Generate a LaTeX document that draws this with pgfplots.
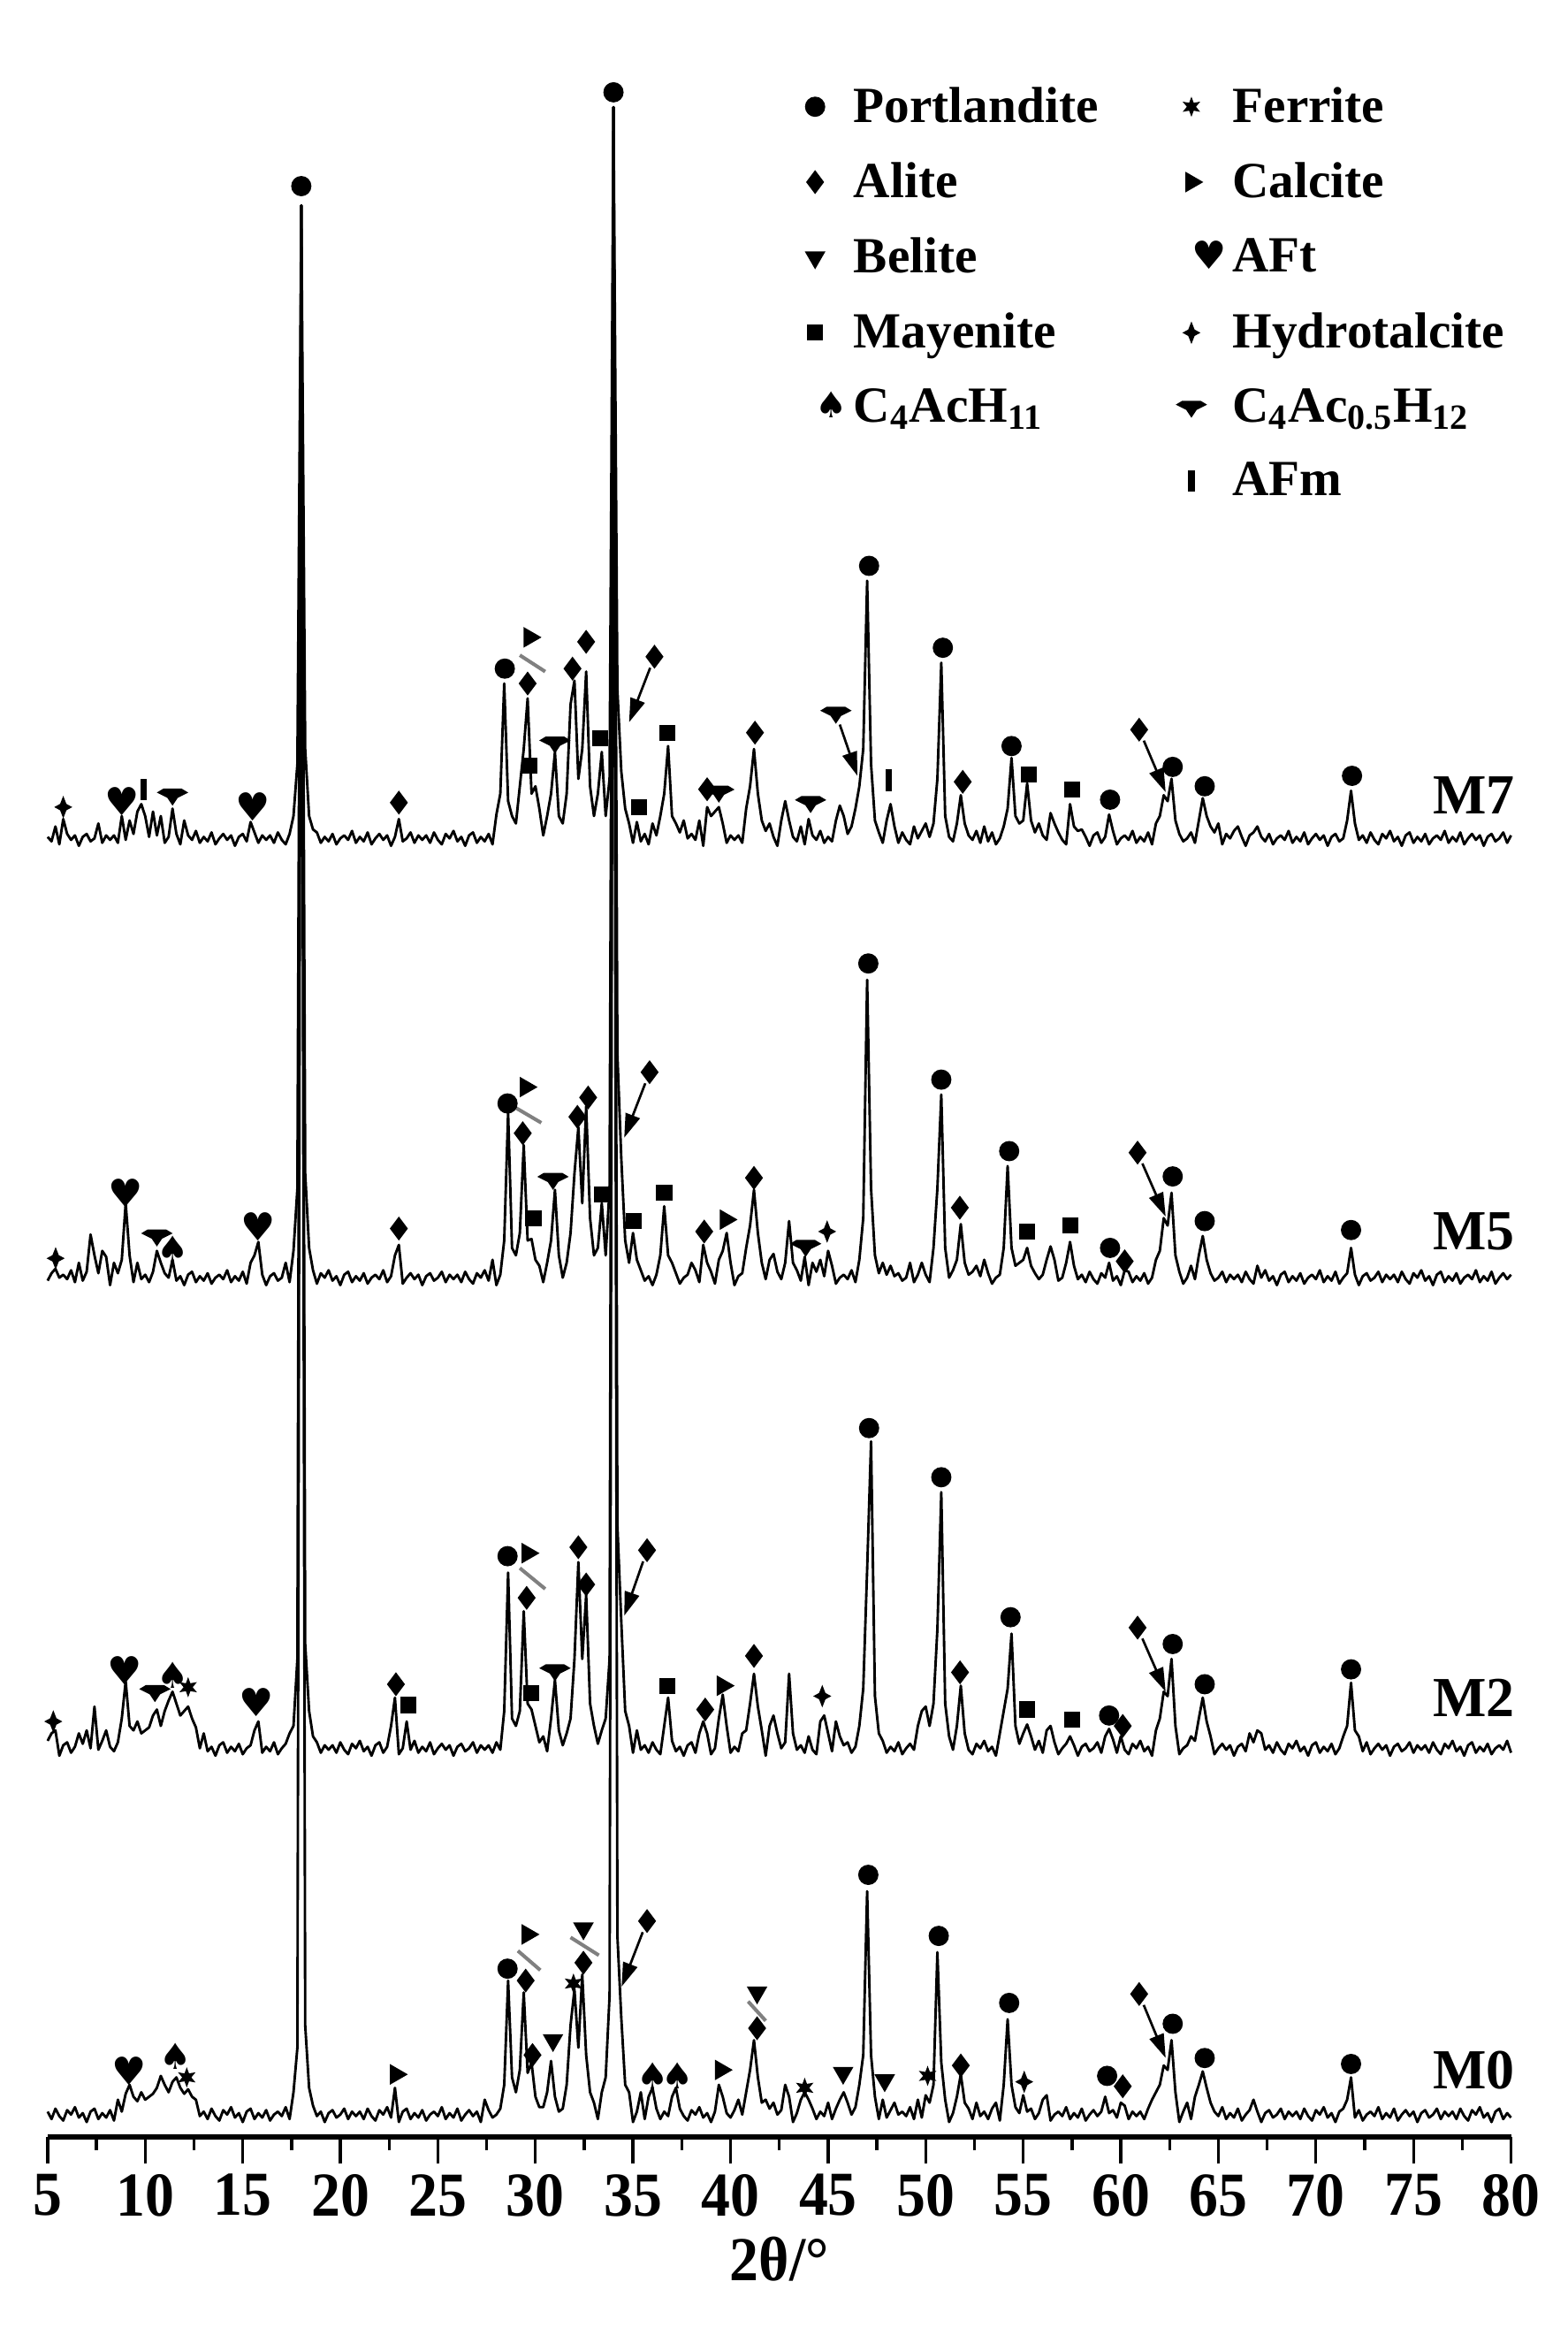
\documentclass[border=0pt]{standalone}
\usepackage{fontspec}
\setmainfont{Liberation Serif}
\newfontfamily\tickfam{Liberation Serif}[FakeStretch=0.93]
\newfontfamily\symfam{DejaVu Sans}
\usepackage{pgfplots}
\pgfplotsset{compat=1.18}
\usepackage{pgfplotstable}
\usetikzlibrary{calc,arrows.meta}

% extra marks for the phases
\pgfdeclareplotmark{sixstar}{%
  \pgfpathmoveto{\pgfqpoint{0pt}{\pgfplotmarksize}}%
  \pgfpathlineto{\pgfqpoint{0.225\pgfplotmarksize}{0.39\pgfplotmarksize}}%
  \pgfpathlineto{\pgfqpoint{0.866\pgfplotmarksize}{0.5\pgfplotmarksize}}%
  \pgfpathlineto{\pgfqpoint{0.45\pgfplotmarksize}{0pt}}%
  \pgfpathlineto{\pgfqpoint{0.866\pgfplotmarksize}{-0.5\pgfplotmarksize}}%
  \pgfpathlineto{\pgfqpoint{0.225\pgfplotmarksize}{-0.39\pgfplotmarksize}}%
  \pgfpathlineto{\pgfqpoint{0pt}{-\pgfplotmarksize}}%
  \pgfpathlineto{\pgfqpoint{-0.225\pgfplotmarksize}{-0.39\pgfplotmarksize}}%
  \pgfpathlineto{\pgfqpoint{-0.866\pgfplotmarksize}{-0.5\pgfplotmarksize}}%
  \pgfpathlineto{\pgfqpoint{-0.45\pgfplotmarksize}{0pt}}%
  \pgfpathlineto{\pgfqpoint{-0.866\pgfplotmarksize}{0.5\pgfplotmarksize}}%
  \pgfpathlineto{\pgfqpoint{-0.225\pgfplotmarksize}{0.39\pgfplotmarksize}}%
  \pgfpathclose\pgfusepathqfill}
\pgfdeclareplotmark{fourstar}{%
  \pgfpathmoveto{\pgfqpoint{0pt}{\pgfplotmarksize}}%
  \pgfpathlineto{\pgfqpoint{0.28\pgfplotmarksize}{0.28\pgfplotmarksize}}%
  \pgfpathlineto{\pgfqpoint{0.8\pgfplotmarksize}{0pt}}%
  \pgfpathlineto{\pgfqpoint{0.28\pgfplotmarksize}{-0.28\pgfplotmarksize}}%
  \pgfpathlineto{\pgfqpoint{0pt}{-\pgfplotmarksize}}%
  \pgfpathlineto{\pgfqpoint{-0.28\pgfplotmarksize}{-0.28\pgfplotmarksize}}%
  \pgfpathlineto{\pgfqpoint{-0.8\pgfplotmarksize}{0pt}}%
  \pgfpathlineto{\pgfqpoint{-0.28\pgfplotmarksize}{0.28\pgfplotmarksize}}%
  \pgfpathclose\pgfusepathqfill}
\pgfdeclareplotmark{cacshape}{%
  \pgfpathmoveto{\pgfqpoint{-1.2\pgfplotmarksize}{0.2\pgfplotmarksize}}%
  \pgfpathlineto{\pgfqpoint{-0.7\pgfplotmarksize}{0.5\pgfplotmarksize}}%
  \pgfpathlineto{\pgfqpoint{0.7\pgfplotmarksize}{0.5\pgfplotmarksize}}%
  \pgfpathlineto{\pgfqpoint{1.2\pgfplotmarksize}{0.2\pgfplotmarksize}}%
  \pgfpathlineto{\pgfqpoint{0.4\pgfplotmarksize}{-0.2\pgfplotmarksize}}%
  \pgfpathlineto{\pgfqpoint{0pt}{-0.8\pgfplotmarksize}}%
  \pgfpathlineto{\pgfqpoint{-0.4\pgfplotmarksize}{-0.2\pgfplotmarksize}}%
  \pgfpathclose\pgfusepathqfill}
\pgfdeclareplotmark{afmbar}{%
  \pgfpathrectangle{\pgfqpoint{-0.3\pgfplotmarksize}{-\pgfplotmarksize}}{\pgfqpoint{0.6\pgfplotmarksize}{2\pgfplotmarksize}}%
  \pgfusepathqfill}

\newcommand\tickf{\tickfam\bfseries\fontsize{21}{21}\selectfont}
\newcommand\legf{\bfseries\fontsize{17}{17}\selectfont}
\newcommand\labf{\bfseries\fontsize{19}{19}\selectfont}

\pgfplotsset{
  xrdport/.style={only marks, black, mark=*, mark size=3.2pt},
  xrdalite/.style={only marks, black, mark=diamond*, mark size=3.7pt},
  xrdbelite/.style={only marks, black, mark=triangle*, mark size=3.6pt, mark options={rotate=180}},
  xrdmayen/.style={only marks, black, mark=square*, mark size=2.5pt},
  xrdspade/.style={only marks, black, mark=text, text mark={♠}, text mark as node=true,
    text mark style={font=\symfam\fontsize{12}{12}\selectfont, inner sep=0pt}},
  xrdferr/.style={only marks, black, mark=sixstar, mark size=3.4pt},
  xrdcalc/.style={only marks, black, mark=triangle*, mark size=3.6pt, mark options={rotate=-90}},
  xrdaft/.style={only marks, black, mark=text, text mark={♥}, text mark as node=true,
    text mark style={font=\symfam\fontsize{13}{13}\selectfont, inner sep=0pt}},
  xrdhydro/.style={only marks, black, mark=fourstar, mark size=3.8pt},
  xrdcac/.style={only marks, black, mark=cacshape, mark size=4.4pt},
  xrdafm/.style={only marks, black, mark=afmbar, mark size=3.6pt},
}

% relative intensities above each baseline
\pgfplotstableread{
x M0 M2 M5 M7
5.0 2 5 -2 1
5.2 -3 10 3 -2
5.4 4 12 6 8
5.6 -1 -5 0 -4
5.8 -4 2 2 13
6.0 3 4 -1 3
6.2 0 -3 5 -1
6.4 5 1 -3 2
6.6 -2 10 10 -5
6.8 1 3 -2 1
7.0 -5 12 4 3
7.2 2 0 29 -2
7.4 4 28 15 0
7.6 -3 -1 3 10
7.8 1 5 18 -3
8.0 -2 12 14 2
8.2 3 1 -5 -1
8.4 -4 -2 10 2
8.6 10 4 3 -3
8.8 2 20 12 15
9.0 14 45 50 -1
9.2 20 15 15 12
9.4 12 12 -3 3
9.6 9 18 10 18
9.8 15 10 -1 23
10.0 10 12 2 15
10.2 12 14 -3 1
10.4 14 22 4 18
10.6 18 26 18 2
10.8 26 15 10 15
11.0 20 25 3 -3
11.2 15 32 0 1
11.4 22 38 12 20
11.6 25 30 -2 3
11.8 18 22 1 -4
12.0 14 25 -5 12
12.2 17 28 2 2
12.4 12 20 4 -1
12.6 10 14 -3 5
12.8 -1 0 1 -3
13.0 2 10 -2 1
13.2 -3 -2 3 -2
13.4 4 1 -4 4
13.6 -1 -5 0 -4
13.8 -4 2 2 0
14.0 3 4 -1 3
14.2 0 -3 5 -1
14.4 5 1 -3 2
14.6 -2 -2 1 -5
14.8 1 3 -2 1
15.0 -5 -4 4 3
15.2 2 0 -4 -2
15.4 4 2 10 11
15.6 -3 12 15 4
15.8 1 18 24 -3
16.0 -2 -3 2 2
16.2 3 1 -5 -1
16.4 -4 -2 1 2
16.6 0 4 3 -3
16.8 2 -4 -2 4
17.0 -1 0 0 -1
17.2 5 3 10 -4
17.4 -3 10 -3 3
17.6 15 15 18 15
17.8 45 60 60 50
18.0 1282 1036 720 425
18.2 60 70 70 60
18.4 18 25 20 15
18.6 6 8 5 6
18.8 -1 4 -4 4
19.0 2 -3 3 -3
19.2 -5 2 0 1
19.4 1 -1 5 -2
19.6 3 2 -2 3
19.8 -2 -3 1 -4
20.0 0 4 -5 0
20.2 4 -1 2 2
20.4 -3 -4 4 -1
20.6 2 3 -3 5
20.8 -1 0 1 -3
21.0 2 5 -2 1
21.2 -3 -2 3 -2
21.4 4 1 -4 4
21.6 -1 -5 0 -4
21.8 -4 2 2 0
22.0 3 4 -1 3
22.2 0 -3 5 -1
22.4 5 1 -3 2
22.6 -2 15 1 -5
22.8 18 34 15 1
23.0 -5 -4 22 13
23.2 2 0 -4 -2
23.4 4 18 0 0
23.6 -3 -1 3 4
23.8 1 5 -1 -3
24.0 -2 -3 2 2
24.2 3 1 -5 -1
24.4 -4 -2 1 2
24.6 0 4 3 -3
24.8 2 -4 -2 4
25.0 -1 0 0 -1
25.2 5 3 4 -4
25.4 -3 -1 -3 3
25.6 1 2 2 0
25.8 -2 -5 -1 5
26.0 4 1 2 -2
26.2 -4 3 -3 1
26.4 0 -2 4 -5
26.6 3 0 -1 2
26.8 -1 4 -4 4
27.0 2 -3 3 -3
27.2 -5 2 0 1
27.4 10 -1 5 -2
27.6 3 2 -2 3
27.8 -2 -3 12 -4
28.0 0 4 -5 16
28.2 4 -1 2 30
28.4 20 25 25 104
28.6 90 118 111 25
28.8 25 20 20 15
29.0 15 15 15 10
29.2 30 25 30 35
29.4 82 92 89 60
29.6 28 30 25 94
29.8 35 26 26 30
30.0 12 15 12 35
30.2 5 4 8 20
30.4 5 8 -3 2
30.6 15 -2 10 15
30.8 36 20 25 30
31.0 12 46 59 58
31.2 2 12 15 15
31.4 4 2 0 10
31.6 20 10 10 30
31.8 60 20 30 90
32.0 84 60 70 106
32.2 45 125 101 40
32.4 94 60 50 60
32.6 40 103 115 112
32.8 15 30 40 35
33.0 8 15 15 15
33.2 -3 3 20 30
33.4 15 12 50 58
33.6 25 20 15 15
33.8 80 60 60 40
34.0 1348 1102 786 491
34.2 120 150 150 100
34.4 65 85 80 45
34.6 20 25 25 20
34.8 15 15 10 10
35.0 -5 -3 30 -3
35.2 2 12 12 11
35.4 15 -1 5 -2
35.6 -3 2 -2 3
35.8 12 -3 1 -4
36.0 18 4 -5 10
36.2 4 -1 2 2
36.4 -3 -4 15 15
36.6 2 15 48 30
36.8 -1 34 15 62
37.0 12 5 10 15
37.2 18 -2 3 10
37.4 4 1 -4 4
37.6 -1 -5 0 12
37.8 -4 2 2 0
38.0 3 4 10 3
38.2 0 -3 5 -1
38.4 5 10 -3 12
38.6 -2 18 22 -5
38.8 1 10 10 21
39.0 -5 -4 4 15
39.2 2 0 -4 18
39.4 20 20 12 21
39.6 12 36 18 10
39.8 1 15 30 -3
40.0 -2 -3 10 2
40.2 3 1 -5 -1
40.4 10 -2 1 2
40.6 0 10 3 -3
40.8 15 12 20 20
41.0 30 30 35 35
41.2 50 50 59 60
41.4 25 28 30 30
41.6 8 12 10 12
41.8 10 -5 -1 5
42.0 4 15 12 10
42.2 8 22 16 1
42.4 0 10 4 -5
42.6 3 0 -1 12
42.8 20 4 10 25
43.0 12 50 38 12
43.2 -5 10 10 1
43.4 1 -1 5 -2
43.6 10 2 -2 8
43.8 15 -3 14 -4
44.0 10 8 -5 13
44.2 4 -1 10 2
44.4 -3 -4 4 -1
44.6 2 18 12 5
44.8 -1 22 1 -3
45.0 8 10 18 1
45.2 -3 -2 8 -2
45.4 4 18 -4 12
45.6 10 8 0 22
45.8 15 2 2 15
46.0 8 4 -1 3
46.2 0 -3 5 8
46.4 5 1 -3 20
46.6 20 15 12 35
46.8 40 40 40 60
47.0 150 120 200 173
47.2 40 206 60 50
47.4 12 35 15 12
47.6 -3 10 3 4
47.8 10 5 10 -3
48.0 -2 -3 2 12
48.2 3 1 8 23
48.4 8 -2 1 8
48.6 0 4 3 -3
48.8 2 -4 -2 4
49.0 -1 0 0 -1
49.2 5 3 10 -4
49.4 -3 -1 -3 8
49.6 10 15 2 0
49.8 -2 25 10 5
50.0 13 28 2 10
50.2 8 15 -3 1
50.4 20 30 20 10
50.6 109 80 60 40
50.8 35 172 123 118
51.0 10 30 20 15
51.2 -5 8 0 1
51.4 1 -1 5 -2
51.6 12 15 12 10
51.8 27 42 36 29
52.0 8 10 10 10
52.2 4 -1 2 2
52.4 -3 -4 4 -1
52.6 8 3 8 5
52.8 -1 0 1 -3
53.0 2 5 12 8
53.2 -3 -2 3 -2
53.4 4 1 -4 4
53.6 8 -5 0 -4
53.8 -4 10 2 0
54.0 20 25 20 8
54.2 64 40 75 20
54.4 20 77 20 54
54.6 5 15 8 15
54.8 1 3 10 10
55.0 13 10 12 12
55.2 2 16 20 37
55.4 4 8 8 12
55.6 -3 -1 3 4
55.8 1 5 -1 10
56.0 10 -3 2 2
56.2 13 12 12 -1
56.4 -4 15 21 17
56.6 0 4 12 10
56.8 2 -4 -2 4
57.0 -1 0 0 -1
57.2 5 3 10 -4
57.4 -3 8 24 23
57.6 1 2 8 8
57.8 -2 -5 -1 5
58.0 4 1 2 6
58.2 -4 3 -3 1
58.4 0 -2 4 -5
58.6 3 0 -1 2
58.8 -1 4 -4 4
59.0 2 -3 3 -3
59.2 12 8 0 1
59.4 1 13 10 16
59.6 3 6 -2 5
59.8 -2 -3 1 -4
60.0 8 8 -5 0
60.2 6 -1 5 2
60.4 -3 -4 4 -1
60.6 2 3 -3 5
60.8 -1 0 1 -3
61.0 2 5 -2 1
61.2 -3 -2 3 -2
61.4 4 1 -4 4
61.6 10 -5 0 -4
61.8 15 12 12 10
62.0 20 20 18 15
62.2 33 38 40 29
62.4 30 35 35 25
62.6 50 60 57 40
62.8 15 15 15 12
63.0 -5 -4 4 3
63.2 2 0 -4 -2
63.4 8 2 0 0
63.6 -3 8 8 4
63.8 12 5 -1 -3
64.0 20 20 15 12
64.2 29 34 28 27
64.4 18 18 12 15
64.6 8 8 3 8
64.8 2 -4 -2 4
65.0 -1 0 0 10
65.2 5 3 4 -4
65.4 -3 -1 -3 3
65.6 1 2 2 0
65.8 -2 -5 -1 5
66.0 4 1 2 8
66.2 -4 3 -3 1
66.4 0 -2 4 -5
66.6 3 10 -1 2
66.8 10 4 -4 4
67.0 2 12 8 8
67.2 -5 10 0 1
67.4 1 -1 5 -2
67.6 3 2 -2 3
67.8 -2 -3 1 -4
68.0 0 4 -5 0
68.2 4 -1 2 2
68.4 -3 -4 4 -1
68.6 2 3 -3 5
68.8 -1 0 1 -3
69.0 2 5 -2 1
69.2 -3 -2 3 -2
69.4 4 1 -4 4
69.6 -1 -5 0 -4
69.8 -4 2 2 0
70.0 3 4 -1 3
70.2 0 -3 5 -1
70.4 5 1 -3 2
70.6 -2 -2 1 -5
70.8 1 3 -2 1
71.0 -5 -4 4 3
71.2 2 0 -4 -2
71.4 4 8 0 0
71.6 10 15 3 12
71.8 25 44 20 32
72.0 -2 12 2 10
72.2 3 8 -5 -1
72.4 -4 -2 1 2
72.6 0 4 3 -3
72.8 2 -4 -2 4
73.0 -1 0 0 -1
73.2 5 3 4 -4
73.4 -3 -1 -3 3
73.6 1 2 2 0
73.8 -2 -5 -1 5
74.0 4 1 2 -2
74.2 -4 3 -3 1
74.4 0 -2 4 -5
74.6 3 0 -1 2
74.8 -1 4 -4 4
75.0 2 -3 3 -3
75.2 -5 2 0 1
75.4 1 -1 5 -2
75.6 3 2 -2 3
75.8 -2 -3 1 -4
76.0 0 4 -5 0
76.2 4 -1 2 2
76.4 -3 -4 4 -1
76.6 2 3 -3 5
76.8 -1 0 1 -3
77.0 2 5 -2 1
77.2 -3 -2 3 -2
77.4 4 1 -4 4
77.6 -1 -5 0 -4
77.8 -4 2 2 0
78.0 3 4 -1 3
78.2 0 -3 5 -1
78.4 5 1 -3 2
78.6 -2 -2 1 -5
78.8 1 3 -2 1
79.0 -5 -4 4 3
79.2 2 0 -4 -2
79.4 4 2 0 0
79.6 -3 -1 3 4
79.8 1 5 -1 -3
80.0 -2 -3 2 2
}\xrd

\begin{document}
\begin{tikzpicture}
\begin{axis}[
  scale only axis,
  width=491.5pt, height=717.5pt,
  xmin=5, xmax=80, ymin=133, ymax=1568,
  axis y line=none,
  axis x line*=bottom,
  x axis line style={line width=2pt},
  xtick={5,10,...,80},
  minor xtick={7.5,12.5,...,77.5},
  tick align=outside,
  major tick length=9pt,
  minor tick length=4.5pt,
  every tick/.style={black, line width=1pt},
  xticklabel style={font=\tickf},
  /pgf/number format/assume math mode=true,
  xlabel={2θ/°},
  xlabel style={font=\tickf},
  clip=false,
  legend columns=2,
  legend cell align=left,
  legend style={at={(axis cs:43.0,1514)}, anchor=north west, draw=none, fill=none,
    font=\legf, row sep=8pt, inner sep=0pt,
    /tikz/every even column/.append style={column sep=24pt}},
]
\coordinate (bl) at (rel axis cs:0,0);
\coordinate (tr) at (rel axis cs:1,1);

% patterns, stacked
\addplot[black, line width=0.85pt, line join=round, forget plot] table[x=x, y expr=\thisrow{M0}+148] {\xrd};
\addplot[black, line width=0.85pt, line join=round, forget plot] table[x=x, y expr=\thisrow{M2}+394] {\xrd};
\addplot[black, line width=0.85pt, line join=round, forget plot] table[x=x, y expr=\thisrow{M5}+710] {\xrd};
\addplot[black, line width=0.85pt, line join=round, forget plot] table[x=x, y expr=\thisrow{M7}+1005] {\xrd};

% arrows and slashes between stacked symbols
\draw[-{Triangle[length=8pt,width=5pt]}, line width=0.8pt, shorten <=4pt]
  (axis cs:35.72,278) -- (axis cs:34.42,234);
\draw[-{Triangle[length=8pt,width=5pt]}, line width=0.8pt, shorten <=4pt]
  (axis cs:60.94,229) -- (axis cs:62.3,186);
\draw[-{Triangle[length=8pt,width=5pt]}, line width=0.8pt, shorten <=4pt]
  (axis cs:35.72,527) -- (axis cs:34.55,483);
\draw[-{Triangle[length=8pt,width=5pt]}, line width=0.8pt, shorten <=4pt]
  (axis cs:60.86,475) -- (axis cs:62.3,432);
\draw[-{Triangle[length=8pt,width=5pt]}, line width=0.8pt, shorten <=4pt]
  (axis cs:35.85,848) -- (axis cs:34.55,804);
\draw[-{Triangle[length=8pt,width=5pt]}, line width=0.8pt, shorten <=4pt]
  (axis cs:60.86,794) -- (axis cs:62.3,751);
\draw[-{Triangle[length=8pt,width=5pt]}, line width=0.8pt, shorten <=4pt]
  (axis cs:36.1,1127) -- (axis cs:34.8,1083);
\draw[-{Triangle[length=8pt,width=5pt]}, line width=0.8pt, shorten <=4pt]
  (axis cs:45.4,1089) -- (axis cs:46.5,1047);
\draw[-{Triangle[length=8pt,width=5pt]}, line width=0.8pt, shorten <=4pt]
  (axis cs:60.94,1078) -- (axis cs:62.3,1036);
\draw[gray, line width=1.2pt] (axis cs:29.1,258) -- (axis cs:30.25,245);
\draw[gray, line width=1.2pt] (axis cs:31.8,267) -- (axis cs:33.25,255);
\draw[gray, line width=1.2pt] (axis cs:40.9,224) -- (axis cs:41.8,211);
\draw[gray, line width=1.2pt] (axis cs:29.2,515) -- (axis cs:30.5,501);
\draw[gray, line width=1.2pt] (axis cs:29.0,824) -- (axis cs:30.3,814);
\draw[gray, line width=1.2pt] (axis cs:29.2,1128) -- (axis cs:30.5,1117);

% phase symbols
\addplot[xrdport, forget plot] coordinates {
  (28.57,246) (47.06,309) (50.67,268) (54.28,223) (59.3,174) (62.66,209) (64.3,186) (71.8,182)
  (28.57,523) (47.1,609) (50.8,576) (54.35,482) (59.4,416) (62.66,464) (64.3,437) (71.8,447)
  (28.57,827) (47.06,921) (50.8,843) (54.28,795) (59.45,730) (62.66,778) (64.3,748) (71.8,742)
  (18.0,1443) (28.43,1119) (34.0,1506) (47.1,1188) (50.88,1133) (54.4,1067) (59.45,1031)
  (62.66,1053) (64.3,1040) (71.85,1047)};
\addplot[xrdalite, forget plot] coordinates {
  (29.5,238) (29.85,188) (32.46,250) (35.72,278) (41.36,206) (51.8,181) (60.1,167) (60.94,229)
  (22.85,437) (29.55,495) (32.2,529) (32.6,504) (35.72,527) (38.7,420) (41.2,456) (51.76,445)
  (60.1,409) (60.86,475)
  (23.0,743) (29.35,807) (32.15,818) (32.7,831) (35.85,848) (38.65,741) (41.2,777) (51.75,757)
  (60.2,721) (60.86,794)
  (23.0,1029) (29.6,1109) (31.9,1119) (32.6,1137) (36.1,1127) (38.8,1038) (41.25,1076)
  (51.9,1043) (60.94,1078)};
\addplot[xrdbelite, forget plot] coordinates {
  (30.9,198) (32.46,273) (41.36,230) (45.77,176) (47.9,171)};
\addplot[xrdferr, forget plot] coordinates {
  (12.13,173) (31.95,236) (43.8,166) (50.1,174) (12.2,435)};
\addplot[xrdcalc, forget plot] coordinates {
  (22.85,175) (29.6,269) (39.5,178) (29.6,525) (39.6,436) (29.5,838) (39.75,749) (29.7,1140)};
\addplot[xrdmayen, forget plot] coordinates {
  (23.5,423) (29.8,431) (36.75,436) (55.2,420) (57.5,413)
  (29.9,750) (33.4,766) (35.05,748) (36.6,767) (55.2,741) (57.4,745)
  (29.7,1054) (33.3,1072) (35.3,1026) (36.75,1076) (55.3,1048) (57.5,1038)};
\addplot[xrdaft, forget plot] coordinates {
  (9.2,177) (8.93,446) (15.69,425) (9.0,767) (15.8,744) (8.8,1030) (15.5,1026)};
\addplot[xrdhydro, forget plot] coordinates {
  (55.05,170) (5.29,412) (44.7,429) (5.41,723) (44.95,741) (5.8,1026)};
\addplot[xrdspade, forget plot] coordinates {
  (11.55,187) (36.0,174) (37.3,174) (11.4,443) (11.4,729)};
\addplot[xrdcac, forget plot] coordinates {
  (10.5,432) (31.0,446) (10.6,738) (30.9,776) (43.85,731)
  (11.4,1034) (31.0,1069) (39.4,1036) (44.1,1029) (45.4,1089)};
\addplot[xrdafm, forget plot] coordinates {(9.92,1038) (48.1,1044)};

% sample names
\node[font=\labf] at (axis cs:78.1,178) {M0};
\node[font=\labf] at (axis cs:78.1,428) {M2};
\node[font=\labf] at (axis cs:78.1,741) {M5};
\node[font=\labf] at (axis cs:78.1,1034) {M7};

% legend, two columns
\addlegendimage{xrdport}\addlegendentry{Portlandite}
\addlegendimage{xrdferr}\addlegendentry{Ferrite}
\addlegendimage{xrdalite}\addlegendentry{Alite}
\addlegendimage{xrdcalc}\addlegendentry{Calcite}
\addlegendimage{xrdbelite}\addlegendentry{Belite}
\addlegendimage{xrdaft}\addlegendentry{AFt}
\addlegendimage{xrdmayen}\addlegendentry{Mayenite}
\addlegendimage{xrdhydro}\addlegendentry{Hydrotalcite}
\addlegendimage{xrdspade}\addlegendentry{C\textsubscript{4}AcH\textsubscript{11}}
\addlegendimage{xrdcac}\addlegendentry{C\textsubscript{4}Ac\textsubscript{0.5}H\textsubscript{12}}
\addlegendimage{empty legend}\addlegendentry{}
\addlegendimage{xrdafm}\addlegendentry{AFm}
\end{axis}
\pgfresetboundingbox
\path[use as bounding box] ($(bl)+(-16pt,-66.5pt)$) rectangle ($(tr)+(19pt,0pt)$);
\end{tikzpicture}
\end{document}
